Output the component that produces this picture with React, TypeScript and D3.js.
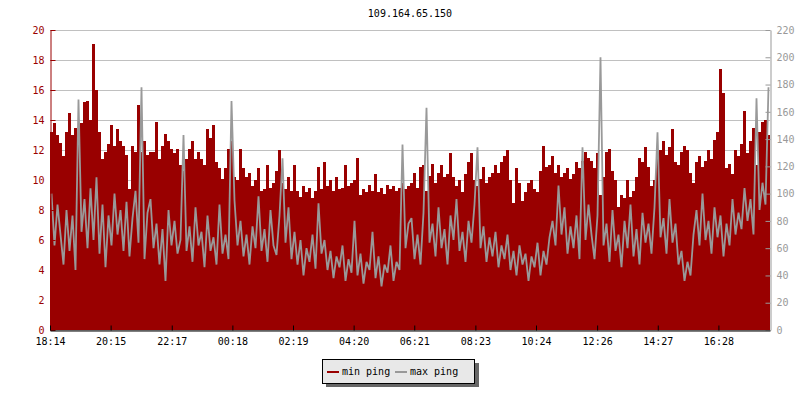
import * as d3 from 'd3';
import { useEffect, useRef } from 'react';

const title = '109.164.65.150';
const seriesNames = ['min ping', 'max ping'];

// first and last sample of the day
const startTime = new Date(2014, 4, 20, 18, 14);
const endTime = new Date(2014, 4, 21, 18, 11);

const timeLabels = ['18:14', '20:15', '22:17', '00:18', '02:19', '04:20', '06:21', '08:23', '10:24', '12:26', '14:27', '16:28'];

// min ping, left axis (ms)
const minPing = [
    13.2, 13.8, 13.0, 12.5, 11.6, 13.2, 14.5, 13.0, 13.5, 12.5,
    13.8, 15.2, 15.3, 14.0, 19.1, 16.0, 13.2, 11.4, 11.9, 12.4,
    13.7, 12.3, 13.4, 12.6, 12.3, 11.7, 9.4, 12.3, 11.9, 15.0,
    11.9, 12.6, 11.7, 11.9, 11.9, 13.9, 11.4, 12.3, 13.1, 12.6,
    12.1, 11.8, 12.1, 11.0, 10.6, 11.4, 12.1, 12.6, 11.4, 11.9,
    11.4, 11.0, 13.4, 12.8, 13.7, 11.2, 10.8, 10.1, 10.8, 12.1,
    12.6, 10.2, 10.0, 12.1, 10.8, 10.2, 10.5, 9.6, 10.0, 10.8,
    9.3, 9.4, 11.0, 9.5, 9.8, 10.6, 12.0, 9.8, 9.4, 10.2,
    9.3, 11.0, 9.3, 8.9, 9.6, 9.2, 9.5, 8.8, 9.3, 10.9,
    9.4, 11.2, 9.6, 10.0, 9.3, 10.2, 9.4, 9.5, 11.0, 9.6,
    9.8, 10.0, 11.5, 9.0, 9.4, 9.2, 9.7, 9.3, 10.4, 9.2,
    9.5, 9.1, 9.7, 9.4, 9.6, 9.3, 9.5, 9.8, 9.4, 9.6,
    9.8, 10.5, 9.5, 10.9, 11.0, 9.3, 10.3, 11.1, 9.8, 10.5,
    11.0, 10.2, 10.4, 11.8, 10.2, 9.6, 10.0, 9.2, 10.4, 11.2,
    11.8, 10.0, 9.6, 10.1, 10.9, 9.8, 10.2, 10.5, 11.0, 10.5,
    11.2, 11.6, 12.0, 10.0, 8.5, 10.8, 9.8, 8.6, 9.2, 9.8,
    10.0, 9.4, 9.2, 10.6, 12.3, 10.9, 11.0, 11.6, 10.5, 11.0,
    10.2, 10.5, 10.8, 10.1, 10.4, 11.2, 10.8, 11.3, 11.9, 11.5,
    11.3, 10.8, 11.8, 9.0, 10.2, 11.9, 12.1, 10.6, 10.0, 8.2,
    9.0, 8.8, 10.0, 8.9, 9.3, 10.2, 11.5, 11.2, 12.2, 10.9,
    9.6, 10.0, 11.5, 12.0, 12.6, 11.7, 12.2, 13.4, 11.2, 11.0,
    11.9, 12.3, 12.0, 10.5, 9.8, 11.2, 11.6, 10.9, 11.3, 12.0,
    11.4, 12.7, 13.2, 17.4, 15.8, 10.8, 11.1, 10.4, 12.0, 11.6,
    12.4, 14.6, 11.8, 12.6, 13.5, 11.0, 13.2, 13.9, 14.0, 13.0,
];

// max ping, right axis (ms)
const maxPing = [
    100, 62, 92, 70, 48, 88, 58, 84, 44, 169,
    72, 96, 60, 104, 66, 112, 56, 92, 46, 84,
    62, 100, 70, 88, 58, 94, 54, 82, 102, 64,
    178, 52, 86, 96, 60, 78, 48, 74, 36, 88,
    62, 80, 56, 66, 143, 58, 76, 50, 90, 62,
    72, 46, 84, 58, 68, 48, 92, 56, 70, 52,
    168, 95, 62, 80, 54, 70, 48, 76, 60, 98,
    58, 74, 50, 88, 62, 55, 84, 126, 64, 90,
    52, 72, 48, 66, 40, 60, 50, 70, 45, 93,
    56, 66, 44, 58, 38, 54, 46, 62, 36, 52,
    42, 80, 40, 56, 34, 50, 44, 72, 38, 54,
    32, 48, 42, 62, 36, 50, 44, 136, 60, 78,
    82, 52, 70, 48, 86, 163, 64, 78, 54, 90,
    60, 74, 48, 84, 66, 96, 58, 72, 50, 80,
    64, 92, 134, 60, 76, 50, 68, 54, 72, 46,
    62, 52, 70, 44, 58, 40, 62, 48, 56, 36,
    54, 46, 64, 40, 58, 48, 68, 80, 62, 106,
    70, 90, 56, 76, 60, 84, 52, 134, 66, 92,
    70, 52, 84, 200, 62, 78, 50, 88, 58, 70,
    46, 80, 60, 92, 54, 74, 48, 86, 64, 78,
    56, 90, 145, 68, 82, 56, 96, 64, 78, 48,
    58, 36, 50, 40, 70, 88, 62, 100, 66, 80,
    56, 90, 68, 84, 54, 78, 62, 96, 70, 86,
    74, 104, 80, 96, 70, 170, 88, 108, 92, 178,
];

const RED = '#990000';
const GREY = '#999999';
const FONT = "'DejaVu Sans Mono', monospace";

function labelTime(label: string) {
    const [h, m] = label.split(':').map(Number);
    const d = new Date(startTime);
    d.setHours(h, m, 0, 0);
    if (d < startTime) d.setDate(d.getDate() + 1);
    return d;
}

export default function App() {
    const svgRef = useRef<SVGSVGElement>(null);
    const width = 800;
    const height = 400;
    const margin = { top: 30, right: 30, bottom: 70, left: 50 };

    useEffect(() => {
        const svg = d3.select(svgRef.current);
        svg.selectAll('*').remove();

        const x = d3.scaleTime().domain([startTime, endTime]).range([margin.left, width - margin.right]);
        const yLeft = d3.scaleLinear().domain([0, 20]).range([height - margin.bottom, margin.top]);
        const yRight = d3.scaleLinear().domain([0, 220]).range([height - margin.bottom, margin.top]);
        const step = (endTime.getTime() - startTime.getTime()) / minPing.length;
        const at = (i: number) => new Date(startTime.getTime() + i * step);

        svg.append('rect').attr('width', width).attr('height', height).attr('fill', 'white');

        // grid
        svg.append('g')
            .selectAll('line')
            .data(yLeft.ticks(10))
            .enter()
            .append('line')
            .attr('x1', margin.left)
            .attr('x2', width - margin.right)
            .attr('y1', (d) => yLeft(d) + 0.5)
            .attr('y2', (d) => yLeft(d) + 0.5)
            .attr('stroke', '#c0c0c0');

        // min ping as bars
        const minPts: [Date, number][] = minPing.map((v, i) => [at(i), v]);
        minPts.push([endTime, minPing[minPing.length - 1]]);
        const area = d3.area<[Date, number]>()
            .x((d) => x(d[0]))
            .y0(yLeft(0))
            .y1((d) => yLeft(d[1]))
            .curve(d3.curveStepAfter);
        svg.append('path')
            .datum(minPts)
            .attr('d', area)
            .attr('fill', RED)
            .attr('shape-rendering', 'crispEdges');

        // max ping as line
        const line = d3.line<number>()
            .x((_, i) => x(at(i + 0.5)))
            .y((d) => yRight(d));
        svg.append('path')
            .datum(maxPing)
            .attr('d', line)
            .attr('fill', 'none')
            .attr('stroke', GREY)
            .attr('stroke-width', 1.8)
            .attr('stroke-linejoin', 'miter')
            .attr('stroke-miterlimit', 2);

        // left axis
        const left = svg.append('g').attr('transform', `translate(${margin.left + 0.5},0)`);
        left.call(d3.axisLeft(yLeft).tickValues(d3.range(1, 20, 2)).tickFormat(() => '').tickSizeInner(-3).tickSizeOuter(0));
        left.call(d3.axisLeft(yLeft).ticks(10).tickSizeInner(-5).tickSizeOuter(0).tickPadding(6));
        left.selectAll('path, line').attr('stroke', RED);
        left.selectAll('text').attr('fill', RED).style('font-family', FONT).style('font-size', '10px');

        // right axis
        const right = svg.append('g').attr('transform', `translate(${width - margin.right + 0.5},0)`);
        right.call(d3.axisRight(yRight).tickValues(d3.range(10, 220, 20)).tickFormat(() => '').tickSizeInner(-3).tickSizeOuter(0));
        right.call(d3.axisRight(yRight).ticks(11).tickSizeInner(-5).tickSizeOuter(0).tickPadding(6));
        right.selectAll('path, line').attr('stroke', GREY);
        right.selectAll('text').attr('fill', GREY).style('font-family', FONT).style('font-size', '10px');

        // time axis
        const bottom = svg.append('g').attr('transform', `translate(0,${height - margin.bottom + 0.5})`);
        bottom.call(
            d3.axisBottom(x)
                .tickValues(timeLabels.map(labelTime))
                .tickFormat((_, i) => timeLabels[i])
                .tickSizeInner(-5)
                .tickSizeOuter(0)
                .tickPadding(7)
        );
        bottom.selectAll('path, line').attr('stroke', 'black');
        bottom.selectAll('text').attr('fill', 'black').style('font-family', FONT).style('font-size', '10px');

        svg.append('text')
            .attr('x', (margin.left + width - margin.right) / 2)
            .attr('y', 17)
            .attr('text-anchor', 'middle')
            .style('font-family', FONT)
            .style('font-size', '10px')
            .text(title);

        // legend
        const legend = svg.append('g').attr('transform', 'translate(322,359)');
        legend.append('rect').attr('x', 4).attr('y', 4).attr('width', 153).attr('height', 24).attr('fill', '#666666');
        legend.append('rect')
            .attr('x', 0.5).attr('y', 0.5).attr('width', 152).attr('height', 24)
            .attr('fill', '#e8e8e8').attr('stroke', 'black');
        const colors = [RED, GREY];
        seriesNames.forEach((name, i) => {
            const ox = 5 + i * 68;
            legend.append('rect').attr('x', ox).attr('y', 12).attr('width', 12).attr('height', 2).attr('fill', colors[i]);
            legend.append('text')
                .attr('x', ox + 15)
                .attr('y', 16)
                .style('font-family', FONT)
                .style('font-size', '10px')
                .text(name);
        });
    }, []);

    return (
        <svg
            ref={svgRef}
            width={width}
            height={height}
            style={{ position: 'absolute', left: 0, top: 0 }}
        ></svg>
    );
}
